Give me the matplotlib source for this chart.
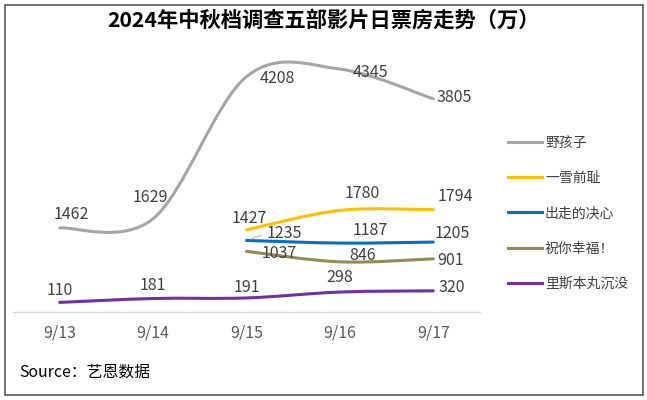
import numpy as np
import matplotlib.pyplot as plt
from matplotlib.path import Path
from matplotlib.patches import PathPatch, Rectangle

plt.rcParams['font.family'] = ['Noto Sans CJK SC', 'DejaVu Sans']

dates = ['9/13', '9/14', '9/15', '9/16', '9/17']
names = ['野孩子', '一雪前耻', '出走的决心', '祝你幸福！', '里斯本丸沉没']
colors = ['#A5A5A5', '#FFC000', '#0070C0', '#948A54', '#7030A0']

yehaizi = [1462, 1629, 4208, 4345, 3805]
yixue = [None, None, 1427, 1780, 1794]
chuzou = [None, None, 1235, 1187, 1205]
zhuni = [None, None, 1037, 846, 901]
lisiben = [110, 181, 191, 298, 320]
series = [yehaizi, yixue, chuzou, zhuni, lisiben]

# label centre offsets from the point, in pixels (dx, dy up)
offsets = [
    [(12, 13), (-3, 21), (31, -2), (31, -3), (21, 1)],
    [None, None, (3, 11), (22, 17), (22, 13)],
    [None, None, (38, 7), (30, 13), (19, 9)],
    [None, None, (33, -2), (23, 6), (17, -2)],
    [(0, 12), (0, 13), (0, 10), (0, 15), (18, 3)],
]


def smooth_path(xs, ys):
    # Catmull-Rom style bezier through the points (Excel-like smoothing)
    pts = np.column_stack([xs, ys]).astype(float)
    n = len(pts)
    verts = [pts[0]]
    codes = [Path.MOVETO]
    for i in range(n - 1):
        p0 = pts[i - 1] if i > 0 else pts[i]
        p1 = pts[i]
        p2 = pts[i + 1]
        p3 = pts[i + 2] if i + 2 < n else pts[i + 1]
        c1 = p1 + (p2 - p0) / 6
        c2 = p2 - (p3 - p1) / 6
        verts += [c1, c2, p2]
        codes += [Path.CURVE4] * 3
    return Path(verts, codes)


fig = plt.figure(figsize=(6.47, 4.0), dpi=100)
ax = fig.add_axes([13 / 647, 88 / 400, 467 / 647, 267 / 400])

for name, vals, col, offs in zip(names, series, colors, offsets):
    idx = [i for i, v in enumerate(vals) if v is not None]
    xs = np.array(idx)
    ys = np.array([vals[i] for i in idx])
    ax.add_patch(PathPatch(smooth_path(xs, ys), fill=False, edgecolor=col,
                           lw=2.2, capstyle='round'))
    ax.plot([], [], color=col, lw=2.2, label=name)
    for i in idx:
        dx, dy = offs[i]
        kw = {}
        if vals[i] == 1235:
            # small leader line back to the point
            kw['arrowprops'] = dict(arrowstyle='-', color='#BFBFBF', lw=0.8,
                                    shrinkA=2, shrinkB=3, relpos=(0, 0.5))
        ax.annotate(str(vals[i]), (i, vals[i]), xytext=(dx, dy),
                    textcoords='offset pixels', ha='center', va='center',
                    fontsize=11.5, color='#404040', **kw)

ax.set_xlim(-0.5, 4.5)
ax.set_ylim(-64, 4782)
ax.set_xticks(range(len(dates)))
ax.set_xticklabels(dates, fontsize=11.5, color='#595959')
ax.set_yticks([])
ax.tick_params(axis='x', length=0, pad=9)
for s in ['top', 'right', 'left']:
    ax.spines[s].set_visible(False)
ax.spines['bottom'].set_color('#D9D9D9')
ax.spines['bottom'].set_linewidth(1)

fig.legend(loc='upper left', bbox_to_anchor=(495 / 647, 1 - 123 / 400),
           frameon=False, fontsize=10, labelcolor='#404040',
           handlelength=2.5, handletextpad=0.2, labelspacing=1.54)

fig.text(0.5, 1 - 20 / 400, '2024年中秋档调查五部影片日票房走势（万）',
         ha='center', va='center', fontsize=15.3, fontweight='bold', color='#000000')
fig.text(19 / 647, 1 - 372 / 400, 'Source：艺恩数据', ha='left', va='center',
         fontsize=11.4, color='#000000')

fig.add_artist(Rectangle((5 / 647, 5 / 400), 638 / 647, 390 / 400,
                         transform=fig.transFigure, fill=False,
                         edgecolor='#595959', lw=1.2))

fig.savefig('out.png', dpi=100)
